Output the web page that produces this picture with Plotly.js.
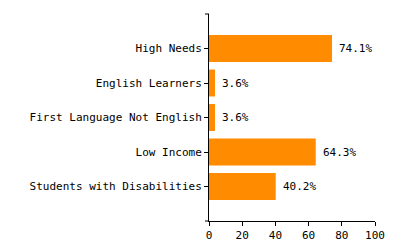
<!DOCTYPE html>
<html>
<head>
<meta charset="utf-8">
<script src="https://cdn.plot.ly/plotly-3.0.1.min.js"></script>
<style>
  html, body { margin: 0; padding: 0; background: #fff; }
  #chart { width: 400px; height: 250px; }
</style>
</head>
<body>
<div id="chart"></div>
<script>
const categories = ['High Needs', 'English Learners', 'First Language Not English', 'Low Income', 'Students with Disabilities'];
const values = [74.1, 3.6, 3.6, 64.3, 40.2];
const valueLabels = ['74.1%', '3.6%', '3.6%', '64.3%', '40.2%'];
const xTicks = [0, 20, 40, 60, 80, 100];

const font = { family: 'DejaVu Sans Mono, monospace', size: 11, color: '#000' };

const trace = {
  type: 'bar',
  orientation: 'h',
  y: categories,
  x: values,
  marker: { color: '#FF8C00' },
  hoverinfo: 'none'
};

const annotations = categories.map((c, i) => ({
  x: values[i],
  y: c,
  xref: 'x',
  yref: 'y',
  text: valueLabels[i],
  showarrow: false,
  xanchor: 'left',
  yanchor: 'middle',
  xshift: 5,
  font: font
}));

const layout = {
  width: 400,
  height: 250,
  margin: { l: 209, r: 25, t: 14, b: 29, pad: 0 },
  paper_bgcolor: '#fff',
  plot_bgcolor: '#fff',
  font: font,
  showlegend: false,
  bargap: 0.22,
  annotations: annotations,
  xaxis: {
    range: [0, 100],
    tickmode: 'array',
    tickvals: xTicks,
    ticks: 'outside',
    ticklen: 4,
    tickcolor: '#000',
    showline: true,
    linecolor: '#000',
    linewidth: 1,
    showgrid: false,
    zeroline: false,
    tickfont: font,
    fixedrange: true
  },
  yaxis: {
    type: 'category',
    categoryorder: 'array',
    categoryarray: categories,
    range: [5, -1],
    ticks: 'outside',
    ticklen: 4,
    tickcolor: '#000',
    showline: true,
    linecolor: '#000',
    linewidth: 1,
    showgrid: false,
    zeroline: false,
    tickfont: font,
    fixedrange: true
  },
  shapes: [
    { type: 'line', xref: 'paper', xsizemode: 'pixel', xanchor: 0, x0: -4, x1: 0, yref: 'paper', y0: 1, y1: 1, layer: 'above', line: { color: '#000', width: 1 } },
    { type: 'line', xref: 'paper', xsizemode: 'pixel', xanchor: 0, x0: -4, x1: 0, yref: 'paper', y0: 0, y1: 0, layer: 'above', line: { color: '#000', width: 1 } }
  ]
};

Plotly.newPlot('chart', [trace], layout, { displayModeBar: false, staticPlot: true });
</script>
</body>
</html>
